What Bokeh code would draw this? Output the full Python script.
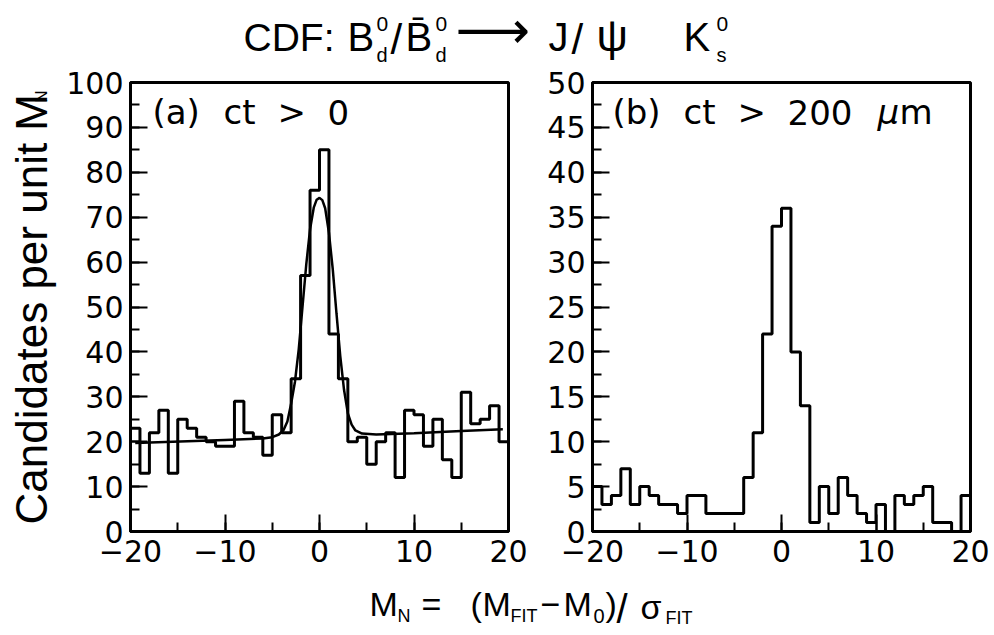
import math
from bokeh.plotting import figure
from bokeh.models import Label, Range1d, SingleIntervalTicker, CustomJSTickFormatter, ColumnDataSource
from bokeh.layouts import column, row
from bokeh.embed import file_html
from bokeh.resources import INLINE

# ---------------- data ----------------
bin_low = list(range(-20, 20))          # bins of width 1 in M_N
bin_width = 1
counts_a = [23, 13, 22, 27, 13, 25, 23, 21, 20, 19,
            19, 29, 22, 21, 17, 26, 22, 34, 57, 76,
            85, 44, 34, 20, 21, 15, 20, 22, 12, 27,
            26, 19, 25, 16, 12, 31, 24, 25, 28, 20]
counts_b = [5, 3, 4, 7, 3, 5, 4, 3, 3, 2,
            4, 4, 2, 2, 2, 2, 6, 11, 22, 34,
            36, 20, 14, 1, 5, 2, 6, 4, 2, 1,
            3, 0, 4, 3, 4, 5, 1, 1, 0, 4]
# fitted curve of panel (a)
fit_x = [-19.5, -10, -6, -5, -4.3, -3.8, -3.4, -3.0, -2.6, -2.2, -1.8, -1.4, -1.0, -0.6, -0.3, 0.0,
         0.3, 0.6, 1.0, 1.4, 1.8, 2.2, 2.6, 3.0, 3.4, 3.8, 4.5, 6, 10, 15, 19.4]
fit_y = [19.7, 20.4, 20.7, 21.0, 21.6, 22.6, 24.5, 28.5, 33.3, 40.5, 50.0, 59.5, 67.3, 72.2, 73.9, 74.3,
         73.8, 72.0, 66.5, 58.5, 48.5, 39.0, 31.5, 26.3, 23.8, 22.5, 21.8, 21.6, 21.9, 22.4, 22.8]
y_max_a, y_max_b = 100, 50

TICK_FONT = "DejaVu Sans"
TXT_FONT = "Liberation Sans"
SHIFT = 0.39   # Label baseline correction (fraction of font size)

edges = bin_low + [bin_low[-1] + bin_width]


def step_source(counts):
    return ColumnDataSource(dict(x=edges, y=list(counts) + [counts[-1]]))


def panel(width, mb_left, mb_right, ymax, yinterval):
    p = figure(width=width, height=509, x_range=Range1d(-20, 20), y_range=Range1d(0, ymax),
               toolbar_location=None, output_backend="svg",
               min_border_left=mb_left, min_border_right=mb_right,
               min_border_top=16, min_border_bottom=44)
    p.grid.visible = False
    p.background_fill_color = "white"
    p.border_fill_color = "white"
    p.outline_line_color = "black"
    p.outline_line_width = 3
    p.xaxis.ticker = SingleIntervalTicker(interval=10, num_minor_ticks=2)
    p.yaxis.ticker = SingleIntervalTicker(interval=yinterval, num_minor_ticks=2)
    p.xaxis.formatter = CustomJSTickFormatter(
        code="return tick < 0 ? '\u2212' + Math.abs(tick) : tick.toString();")
    for ax in (p.xaxis[0], p.yaxis[0]):
        ax.axis_line_width = 3
        ax.axis_line_color = "black"
        ax.major_tick_in = 17
        ax.major_tick_out = 0
        ax.minor_tick_in = 9
        ax.minor_tick_out = 0
        ax.major_tick_line_width = 2
        ax.minor_tick_line_width = 2
        ax.major_tick_line_color = "black"
        ax.minor_tick_line_color = "black"
        ax.major_label_text_font = TICK_FONT
        ax.major_label_text_font_size = "30px"
        ax.major_label_text_color = "black"
    p.xaxis.major_label_standoff = 8
    p.yaxis.major_label_standoff = 7
    return p


def lab(p, x, y, text, size, font=TICK_FONT, style="normal", **kw):
    # (x, y) = wanted start of the text on its baseline
    y = y - SHIFT * size if kw.get("y_units") != "screen" else y + SHIFT * size
    p.add_layout(Label(x=x, y=y, text=text, text_font=font, text_font_size=f"{size}px",
                       text_font_style=style,
                       text_baseline="alphabetic", text_align="left", text_color="black", **kw))


def vlab(p, xc, yc, text, size, font=TXT_FONT):
    # vertical text centred on (xc, yc)
    p.add_layout(Label(x=xc, y=yc, text=text, text_font=font, text_font_size=f"{size}px",
                       angle=math.pi / 2, text_baseline="middle", text_align="center",
                       text_color="black"))


def strip(w, h, top, left=0):
    f = figure(width=w, height=h, x_range=Range1d(left, left + w), y_range=Range1d(top + h, top),
               toolbar_location=None, output_backend="svg", x_axis_type=None, y_axis_type=None,
               min_border=0)
    f.outline_line_color = None
    f.background_fill_color = "white"
    f.border_fill_color = "white"
    return f


# ---------------- panel (a) ----------------
# page coords: frame left 130, right 508, top 82, bottom 531
p1 = panel(480, 70, 32, y_max_a, 10)
p1.step("x", "y", source=step_source(counts_a), mode="after", line_color="black", line_width=3)
p1.line(fit_x, fit_y, line_color="black", line_width=2.5)
FL, FB = 130, 531
for txt, px in [("(a)", 152), ("ct", 223), (">", 277), ("0", 327)]:
    lab(p1, px - FL, FB - 125, txt, 34, x_units="screen", y_units="screen")

# ---------------- panel (b) ----------------
p2 = panel(454, 52, 24, y_max_b, 5)
p2.step("x", "y", source=step_source(counts_b), mode="after", line_color="black", line_width=3)
FL2 = 592
for txt, px, st in [("(b)", 612, "normal"), ("ct", 683, "normal"), (">", 737, "normal"),
                    ("200", 787, "normal"), ("\u03bc", 877, "italic"), ("m", 899, "normal")]:
    lab(p2, px - FL2, FB - 125, txt, 34, style=st, x_units="screen", y_units="screen")

# ---------------- y axis title strip ----------------
ystrip = strip(60, 509, 66)
vlab(ystrip, 31, 323, "Candidates per unit M", 44)
vlab(ystrip, 41, 82, "N", 17)

# ---------------- title strip ----------------
title = strip(994, 66, 0)
for txt, px, py, sz, font in [("CDF:", 243, 52, 39, TXT_FONT), ("B", 347, 52, 40, TXT_FONT),
                              ("0", 376, 32, 21, TXT_FONT), ("d", 376, 62, 20, TXT_FONT),
                              ("/", 390, 55, 42, TXT_FONT), ("B\u0304", 405, 52, 40, TXT_FONT),
                              ("0", 435, 32, 21, TXT_FONT), ("d", 435, 62, 20, TXT_FONT),
                              ("\u27f6", 455, 50, 52, "DejaVu Sans"),
                              ("J", 548, 52, 40, TXT_FONT), ("/", 571, 55, 42, TXT_FONT),
                              ("\u03c8", 596, 52, 44, TXT_FONT), ("K", 683, 52, 40, TXT_FONT),
                              ("0", 716, 32, 21, TXT_FONT), ("s", 716, 62, 20, TXT_FONT)]:
    lab(title, px, py, txt, sz, font=font)

# ---------------- x axis title strip ----------------
xlab = strip(994, 60, 575)
for txt, px, py, sz in [("M", 369, 617, 34), ("N", 397, 623, 18), ("=", 421, 617, 34), ("(", 470, 617, 34),
                        ("M", 482, 617, 34), ("FIT", 510, 623, 18), ("\u2212", 540, 617, 34),
                        ("M", 563, 617, 34), ("0", 593, 623, 20), (")", 605, 617, 34), ("/", 616, 624, 40),
                        ("\u03c3", 640, 620, 34), ("FIT", 665, 625, 18)]:
    lab(xlab, px, py, txt, sz, font=TXT_FONT)

layout = column(title, row(ystrip, p1, p2), xlab)
open("out.html", "w").write(file_html(layout, INLINE))
